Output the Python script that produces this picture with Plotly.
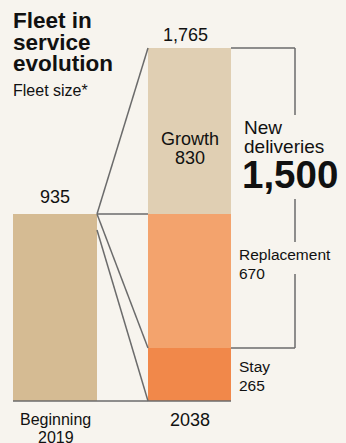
import plotly.graph_objects as go

# Fleet sizes
start_label = ["Beginning", "2019"]
end_label = "2038"
start_fleet = 935
segments = ["Stay", "Replacement", "Growth"]
segment_values = [265, 670, 830]
new_deliveries = 1500

# Styling
BG = "#f7f4ee"
C_START = "#d5bb93"
C_SEG = {"Stay": "#f1884a", "Replacement": "#f3a36d", "Growth": "#e0cfb3"}
LINE = "#6b6b6b"
INK = "#111111"
FONT = "Liberation Sans, Arial, sans-serif"

W, H = 346, 443
BASE_PX = 401          # baseline, px from top
PX_PER_UNIT = 0.2      # vertical scale
y_top = BASE_PX / PX_PER_UNIT
y_bot = (BASE_PX - H) / PX_PER_UNIT

L_X0, L_X1 = 13, 97    # left column edges (px)
R_X0, R_X1 = 148, 231  # right column edges (px)
BRACKET_X = 295

end_total = sum(segment_values)
cum = [sum(segment_values[:i]) for i in range(len(segment_values))]


def px(y):
    """Convert a px-from-top position into data units."""
    return (BASE_PX - y) / PX_PER_UNIT


fig = go.Figure()

fig.add_trace(go.Bar(x=[(L_X0 + L_X1) / 2], y=[start_fleet], width=[L_X1 - L_X0],
                     marker=dict(color=C_START, line=dict(width=0)),
                     hoverinfo="skip", showlegend=False))
for name, v, b in zip(segments, segment_values, cum):
    fig.add_trace(go.Bar(x=[(R_X0 + R_X1) / 2], y=[v], base=[b], width=[R_X1 - R_X0],
                         marker=dict(color=C_SEG[name], line=dict(width=0)),
                         hoverinfo="skip", showlegend=False))

shapes = []


def seg(x0, y0, x1, y1, w=1.5):
    shapes.append(dict(type="line", x0=x0, y0=y0, x1=x1, y1=y1,
                       line=dict(color=LINE, width=w), layer="above"))


# baseline
seg(L_X0, 0, R_X1, 0, 1.5)
# connectors from the starting fleet to the 2038 breakdown
seg(L_X1, start_fleet, R_X0, end_total)
seg(L_X1, start_fleet, R_X0, cum[2])
seg(L_X1, start_fleet, R_X0, cum[1])
seg(L_X1, start_fleet - 16 / PX_PER_UNIT, R_X0, cum[0])
# bracket around the new deliveries, broken where the labels sit
brk_top = end_total
brk_bot = end_total - new_deliveries
seg(R_X1, brk_top, BRACKET_X, brk_top)
seg(R_X1, brk_bot, BRACKET_X, brk_bot)
for a, b in [(brk_top, px(115)), (px(199), px(242)), (px(274), brk_bot)]:
    seg(BRACKET_X, a, BRACKET_X, b)

ann = []


def text(x, baseline, s, size, xanchor="center", bold=False):
    """Place a single line of text by its baseline (px from top)."""
    if bold:
        s = f"<b>{s}</b>"
    ann.append(dict(x=x, y=px(baseline - 0.35 * size), text=s, showarrow=False,
                    xanchor=xanchor, yanchor="middle",
                    font=dict(family=FONT, size=size, color=INK),
                    xref="x", yref="y"))


# title block
for line, bl in zip(["Fleet in", "service", "evolution"], [28, 50, 71]):
    text(11, bl, line, 22.5, "left", bold=True)
text(11, 96, "Fleet size*", 16, "left")

# totals
text((L_X0 + L_X1) / 2, 203, f"{start_fleet:,}", 18)
text(185, 41, f"{end_total:,}", 18)
text(55.5, 425, start_label[0], 16)
text(55.5, 443, start_label[1], 16)
text((R_X0 + R_X1) / 2, 426, end_label, 18)

# segment labels
text((R_X0 + R_X1) / 2, 145, segments[2], 18)
text((R_X0 + R_X1) / 2, 164, f"{segment_values[2]}", 18)
text(237, 260, segments[1], 15.5, "left")
text(237, 279, f"{segment_values[1]}", 15.5, "left")
text(237, 372, segments[0], 15.5, "left")
text(237, 391, f"{segment_values[0]}", 15.5, "left")
text(242, 134, "New", 19, "left")
text(242, 153, "deliveries", 19, "left")
text(240, 188, f"{new_deliveries:,}", 38.5, "left", bold=True)

fig.update_layout(
    width=W, height=H, margin=dict(l=0, r=0, t=0, b=0),
    paper_bgcolor=BG, plot_bgcolor=BG, barmode="overlay", bargap=0,
    xaxis=dict(range=[0, W], visible=False, fixedrange=True),
    yaxis=dict(range=[y_bot, y_top], visible=False, fixedrange=True),
    shapes=shapes, annotations=ann, showlegend=False,
)

fig.write_html("out.html")
